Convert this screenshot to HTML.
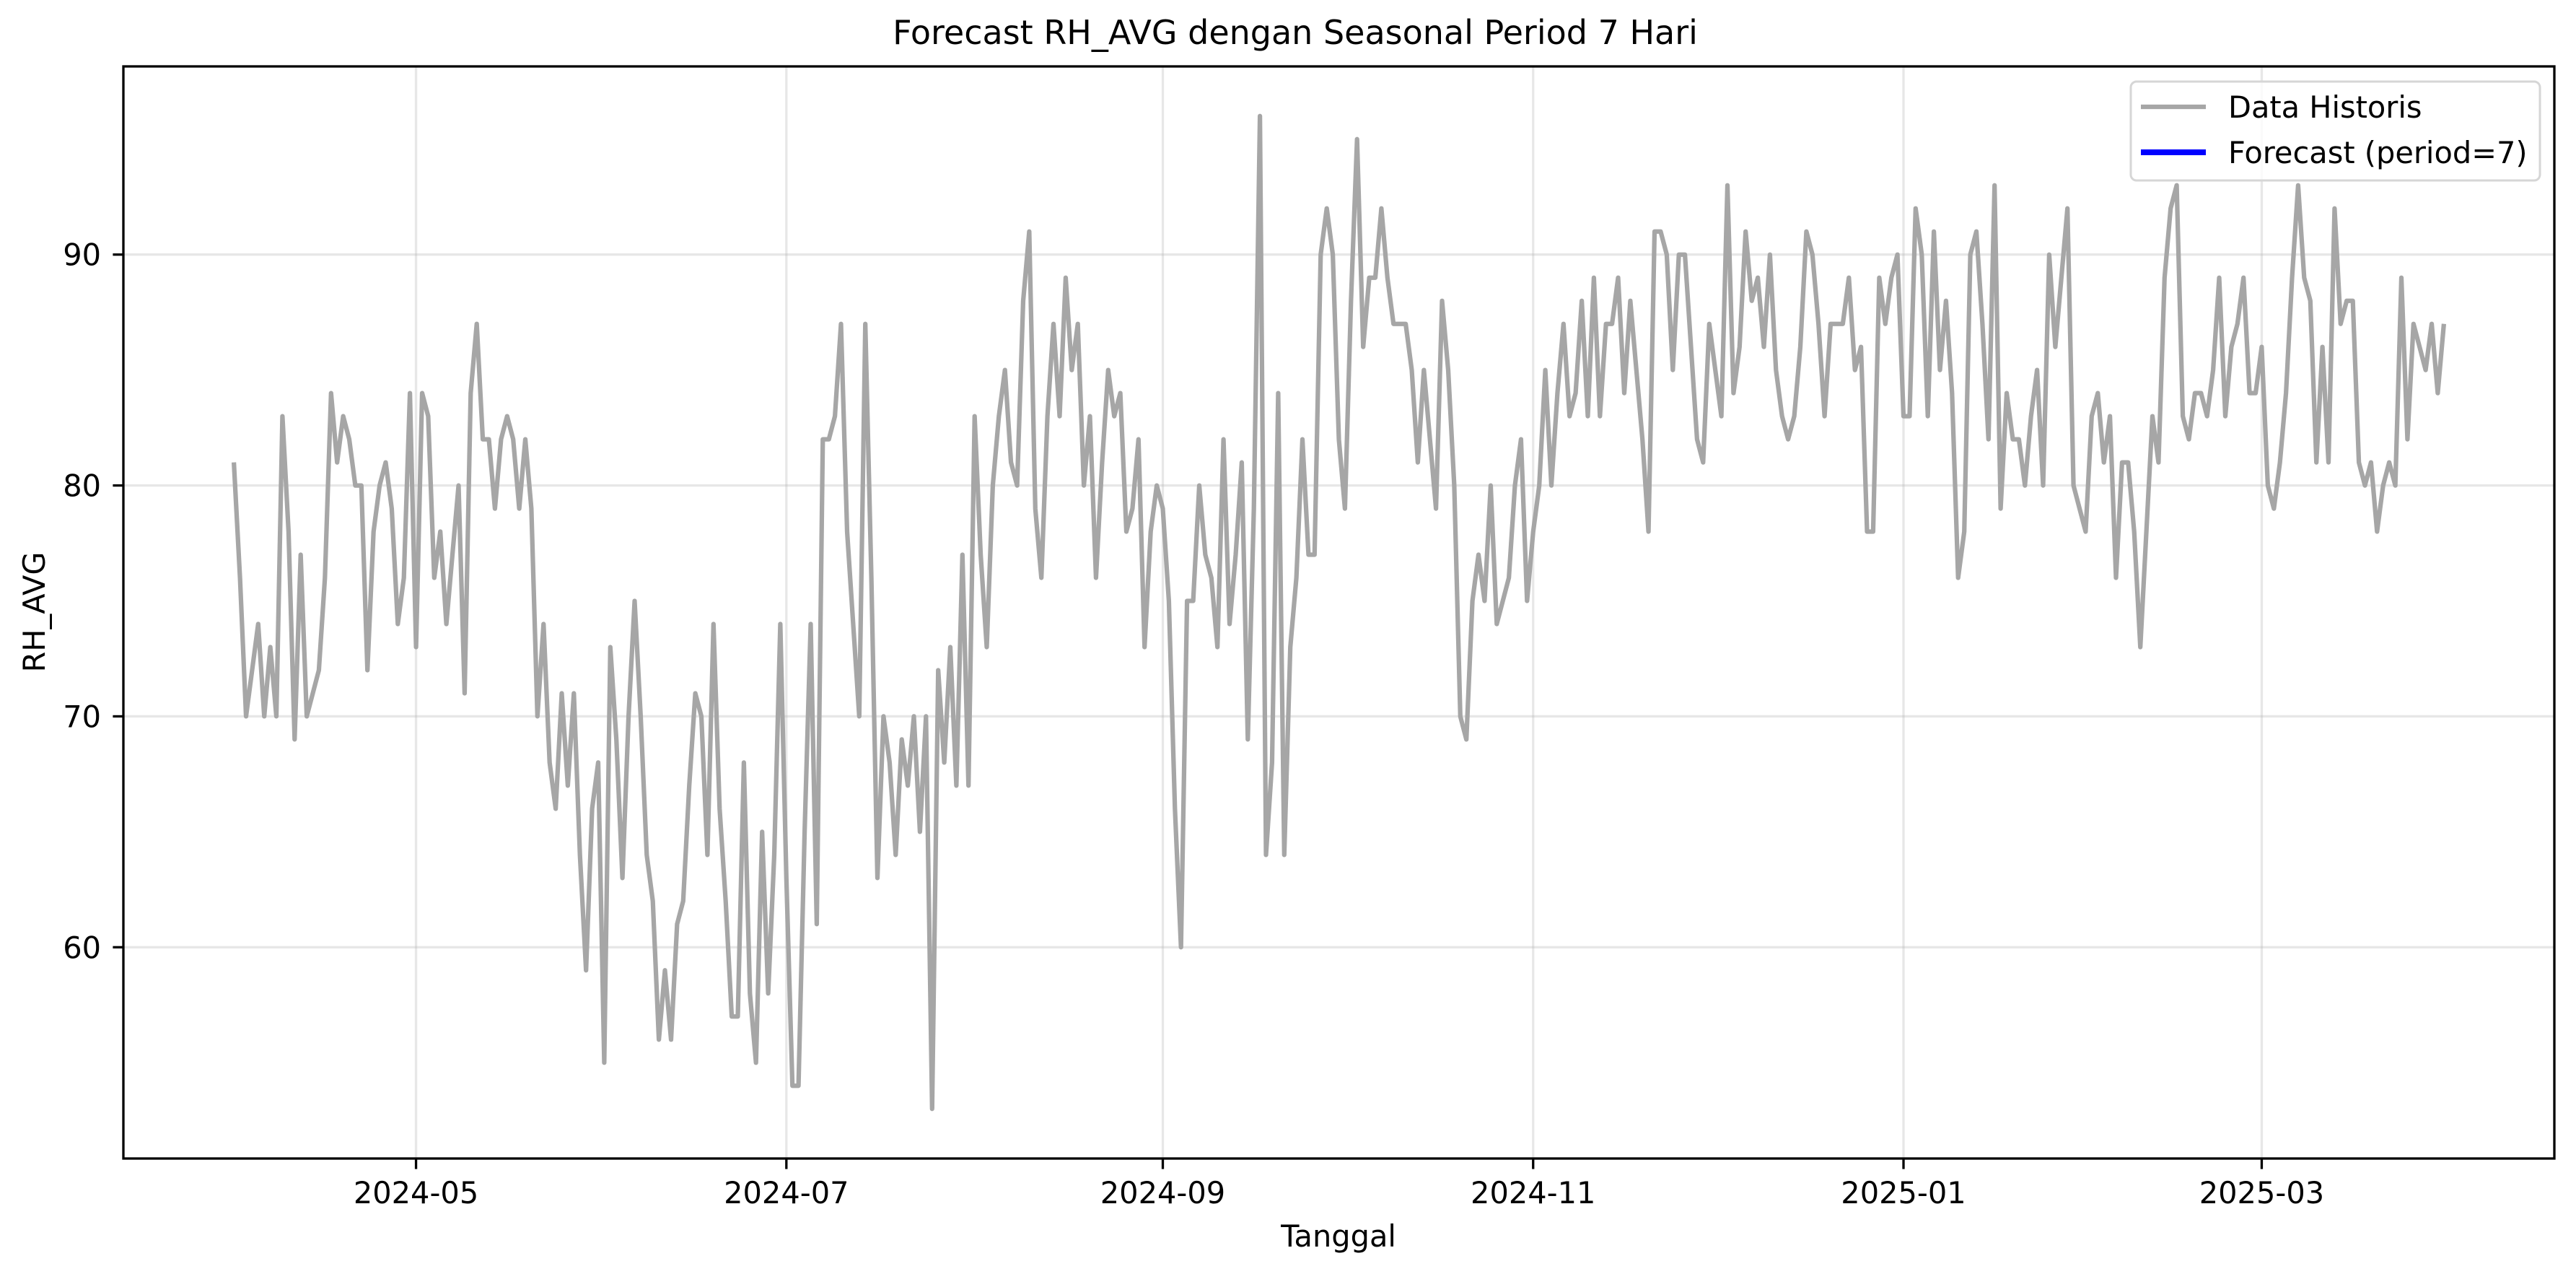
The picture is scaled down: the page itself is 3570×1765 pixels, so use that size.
<!DOCTYPE html>
<html><head><meta charset="utf-8"><style>
html,body{margin:0;padding:0;background:#fff;}
svg{display:block;}
text{font-family:"DejaVu Sans","Liberation Sans",sans-serif;fill:#000;}
</style></head><body>
<svg id="chart" width="3570" height="1765" viewBox="0 0 3570 1765" xmlns="http://www.w3.org/2000/svg">
<rect x="0" y="0" width="3570" height="1765" fill="#fff"/>
<g id="grid"></g>
<g id="series"></g>
<rect x="171" y="92" width="3369" height="1513" fill="none" stroke="#000" stroke-width="3.3"/>
<g id="xticks"></g>
<g id="yticks"></g>
<text x="1795" y="61" font-size="46" text-anchor="middle">Forecast RH_AVG dengan Seasonal Period 7 Hari</text>
<text x="1855" y="1727" font-size="41.5" text-anchor="middle">Tanggal</text>
<text x="0" y="0" font-size="41.5" text-anchor="middle" transform="translate(62,848) rotate(-90)">RH_AVG</text>
<g>
<rect x="2953" y="113" width="567" height="137" rx="8" fill="#fff" fill-opacity="0.8" stroke="#d6d6d6" stroke-width="3"/>
<line x1="2967" y1="148" x2="3057" y2="148" stroke="#a6a6a6" stroke-width="6.25"/>
<text x="3088" y="163" font-size="41.5">Data Historis</text>
<line x1="2967" y1="211" x2="3057" y2="211" stroke="#0000ff" stroke-width="8"/>
<text x="3088" y="226" font-size="41.5">Forecast (period=7)</text>
</g>
</svg>
<script>
const startDate = "2024-04-01";
const rhValues = [
81,76,70,72,74,70,73,70,83,78,
69,77,70,71,72,76,84,81,83,82,
80,80,72,78,80,81,79,74,76,84,
73,84,83,76,78,74,77,80,71,84,
87,82,82,79,82,83,82,79,82,79,
70,74,68,66,71,67,71,64,59,66,
68,55,73,69,63,70,75,70,64,62,
56,59,56,61,62,67,71,70,64,74,
66,62,57,57,68,58,55,65,58,64,
74,63,54,54,65,74,61,82,82,83,
87,78,74,70,87,76,63,70,68,64,
69,67,70,65,70,53,72,68,73,67,
77,67,83,77,73,80,83,85,81,80,
88,91,79,76,83,87,83,89,85,87,
80,83,76,81,85,83,84,78,79,82,
73,78,80,79,75,66,60,75,75,80,
77,76,73,82,74,77,81,69,79,96,
64,68,84,64,73,76,82,77,77,90,
92,90,82,79,88,95,86,89,89,92,
89,87,87,87,85,81,85,82,79,88,
85,80,70,69,75,77,75,80,74,75,
76,80,82,75,78,80,85,80,84,87,
83,84,88,83,89,83,87,87,89,84,
88,85,82,78,91,91,90,85,90,90,
86,82,81,87,85,83,93,84,86,91,
88,89,86,90,85,83,82,83,86,91,
90,87,83,87,87,87,89,85,86,78,
78,89,87,89,90,83,83,92,90,83,
91,85,88,84,76,78,90,91,87,82,
93,79,84,82,82,80,83,85,80,90,
86,89,92,80,79,78,83,84,81,83,
76,81,81,78,73,78,83,81,89,92,
93,83,82,84,84,83,85,89,83,86,
87,89,84,84,86,80,79,81,84,89,
93,89,88,81,86,81,92,87,88,88,
81,80,81,78,80,81,80,89,82,87,
86,85,87,84,87
];
const xTickDates = ["2024-05-01","2024-07-01","2024-09-01","2024-11-01","2025-01-01","2025-03-01"];
const xTickLabels = ["2024-05","2024-07","2024-09","2024-11","2025-01","2025-03"];
const yTickValues = [60,70,80,90];

const NS = "http://www.w3.org/2000/svg";
const L = 171, R = 3540, T = 92, B = 1605;
const DAY = 86400000;
const t0 = Date.parse(startDate);
const dates = rhValues.map((v, i) => t0 + i * DAY);
const xMin = dates[0], xMax = dates[dates.length - 1];
const xPad = (xMax - xMin) * 0.05;
const vMin = Math.min(...rhValues), vMax = Math.max(...rhValues);
const yPad = (vMax - vMin) * 0.05;
function xScale(t){ return L + (t - (xMin - xPad)) / ((xMax + xPad) - (xMin - xPad)) * (R - L); }
function yScale(v){ return B - (v - (vMin - yPad)) / ((vMax + yPad) - (vMin - yPad)) * (B - T); }
function mk(tag, attrs){ const e = document.createElementNS(NS, tag); for (const k in attrs) e.setAttribute(k, attrs[k]); return e; }

const grid = document.getElementById('grid');
const xt = document.getElementById('xticks');
const yt = document.getElementById('yticks');

xTickDates.forEach((d, i) => {
  const x = xScale(Date.parse(d));
  const g = mk('line', {x1:x, y1:T, x2:x, y2:B, stroke:'#b0b0b0', 'stroke-opacity':0.3, 'stroke-width':3.3});
  
  
  grid.appendChild(g);
  const tk = mk('line', {x1:x, y1:B, x2:x, y2:B + 14.6, stroke:'#000', 'stroke-width':3.3});
  
  
  xt.appendChild(tk);
  const lb = mk('text', {x:x, y:1667, 'font-size':41.5, 'text-anchor':'middle'});
  lb.textContent = xTickLabels[i];
  
  
  xt.appendChild(lb);
});

yTickValues.forEach(v => {
  const y = yScale(v);
  const g = mk('line', {x1:L, y1:y, x2:R, y2:y, stroke:'#b0b0b0', 'stroke-opacity':0.3, 'stroke-width':3.3});
  
  
  grid.appendChild(g);
  const tk = mk('line', {x1:L - 14.6, y1:y, x2:L, y2:y, stroke:'#000', 'stroke-width':3.3});
  
  
  yt.appendChild(tk);
  const lb = mk('text', {x:140, y:y + 15, 'font-size':41.5, 'text-anchor':'end'});
  lb.textContent = String(v);
  
  
  yt.appendChild(lb);
});

const pts = rhValues.map((v, i) => xScale(dates[i]).toFixed(1) + ',' + yScale(v).toFixed(1)).join(' ');
const line = mk('polyline', {points:pts, fill:'none', stroke:'#a6a6a6', 'stroke-width':6.25, 'stroke-linejoin':'round', 'stroke-linecap':'butt'});


document.getElementById('series').appendChild(line);
</script>
</body></html>
